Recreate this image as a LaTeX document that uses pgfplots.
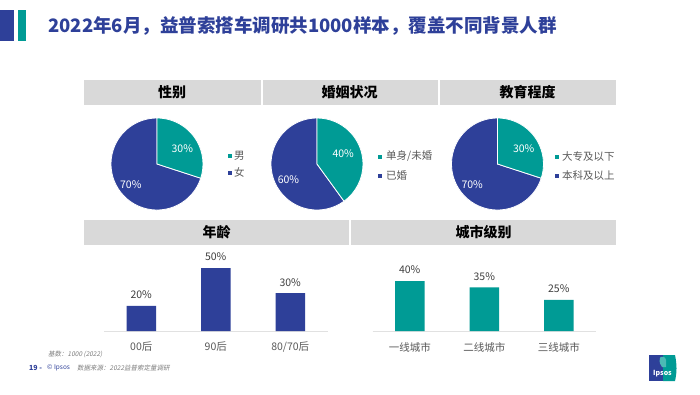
\documentclass[border=0pt]{standalone}
\usepackage{fontspec}
\setmainfont{Noto Sans CJK SC}
\newfontfamily\slcjk{Noto Sans CJK SC}[FakeSlant=0.2]
\usepackage{pgfplots}
\pgfplotsset{compat=1.18}
\definecolor{dkblue}{HTML}{2E4099}
\definecolor{tealc}{HTML}{009B95}
\definecolor{hdr}{HTML}{D9D9D9}
\definecolor{txtgray}{HTML}{595959}
\definecolor{lblgray}{HTML}{404040}
\definecolor{ftgray}{HTML}{7F7F7F}
\tikzset{pielbl/.style={font=\fontsize{10.5}{12}\selectfont, text=white},
  slice/.style={draw=white, line width=0.8pt}}
\pgfplotsset{
  pieaxis/.style={anchor=center, x=46pt, y=46pt, xmin=-1, xmax=1, ymin=-1, ymax=1, hide axis, clip=false},
  baraxis/.style={anchor=south west, scale only axis, width=223.5pt, xmin=-0.5, xmax=2.5, ymin=0, ymax=55,
    ybar, bar width=29.5pt, axis x line=bottom, axis y line=none,
    x axis line style={draw=hdr!80, line width=1pt, -},
    xtick=data, major tick length=0pt,
    /pgf/number format/assume math mode=true,
    xticklabel style={anchor=center, yshift=-16pt, font=\fontsize{10.5}{12}\selectfont, text=txtgray},
    nodes near coords={\pgfmathprintnumber{\pgfplotspointmeta}\%},
    every node near coord/.append style={anchor=center, yshift=11pt, font=\fontsize{10.5}{12}\selectfont, text=lblgray}}
}
\begin{document}
\begin{tikzpicture}
\begin{scope}[x=1pt,y=-1pt]
\path[use as bounding box, fill=white] (0,0) rectangle (700,394);
\fill[dkblue] (0,10) rectangle (14,41);
\fill[tealc] (18,10) rectangle (26,41);
\node[anchor=west, inner sep=0, text=dkblue, font=\fontsize{18.5}{20}\selectfont\bfseries] at (48,26) {2022年6月，益普索搭车调研共1000样本，覆盖不同背景人群};
% header bars
\fill[hdr] (83.5,79.5) rectangle (260.5,104.5);
\fill[hdr] (262.5,79.5) rectangle (437.5,104.5);
\fill[hdr] (439.5,79.5) rectangle (616,104.5);
\fill[hdr] (83.5,220) rectangle (349,244.5);
\fill[hdr] (351,220) rectangle (616,244.5);
\node[font=\fontsize{14}{16}\selectfont\bfseries] at (172,92) {性别};
\node[font=\fontsize{14}{16}\selectfont\bfseries] at (349.5,92) {婚姻状况};
\node[font=\fontsize{14}{16}\selectfont\bfseries] at (527.5,92) {教育程度};
\node[font=\fontsize{14}{16}\selectfont\bfseries] at (216.5,232.5) {年龄};
\node[font=\fontsize{14}{16}\selectfont\bfseries] at (483.5,232.5) {城市级别};
% legends
\fill[tealc] (227.5,154) rectangle (231.5,158);
\node[anchor=west, inner sep=0, font=\fontsize{10.5}{12}\selectfont, text=txtgray] at (234,156) {男};
\fill[dkblue] (227.5,170.5) rectangle (231.5,174.5);
\node[anchor=west, inner sep=0, font=\fontsize{10.5}{12}\selectfont, text=txtgray] at (234,172.5) {女};
\fill[tealc] (378,154.5) rectangle (382,158.5);
\node[anchor=west, inner sep=0, font=\fontsize{10.5}{12}\selectfont, text=txtgray] at (386,156.5) {单身/未婚};
\fill[dkblue] (378,173.5) rectangle (382,177.5);
\node[anchor=west, inner sep=0, font=\fontsize{10.5}{12}\selectfont, text=txtgray] at (386,175.5) {已婚};
\fill[tealc] (554.5,155) rectangle (558.5,159);
\node[anchor=west, inner sep=0, font=\fontsize{10.5}{12}\selectfont, text=txtgray] at (562,157) {大专及以下};
\fill[dkblue] (554.5,174) rectangle (558.5,178);
\node[anchor=west, inner sep=0, font=\fontsize{10.5}{12}\selectfont, text=txtgray] at (562,176) {本科及以上};
% footer
\node[anchor=west, inner sep=0, font=\slcjk\fontsize{6.5}{7}\selectfont, text=ftgray] at (48,354) {基数：1000 (2022)};
\node[anchor=west, inner sep=0, font=\bfseries\fontsize{7}{8}\selectfont, text=dkblue] at (29,368) {19 -};
\node[anchor=west, inner sep=0, font=\fontsize{6.5}{7}\selectfont, text=dkblue] at (47,368) {© Ipsos};
\node[anchor=west, inner sep=0, font=\slcjk\fontsize{6.5}{7}\selectfont, text=ftgray] at (77,368) {数据来源：2022益普索定量调研};
% logo
\fill[dkblue] (649,355) rectangle (663,381);
\fill[tealc] (663,355) -- (675,355) .. controls (677,365) and (677,372) .. (675,381) -- (663,381) -- cycle;
\fill[tealc!70!white] (660,358) .. controls (660,356) and (666,356) .. (666,360) -- (666,367) -- (662,367) .. controls (660,365) and (659,362) .. (660,358) -- cycle;
\node[inner sep=0, text=white, font=\bfseries\fontsize{7}{8}\selectfont] at (662.5,374) {Ipsos};
\end{scope}

% pie 1: 性别 (30 / 70)
\begin{axis}[pieaxis, at={(157pt,-164pt)}]
\filldraw[fill=dkblue, slice] (axis cs:0,0) -- +({90-3.6*30}:46pt) arc[start angle={90-3.6*30}, end angle=-270, radius=46pt] -- cycle;
\filldraw[fill=tealc, slice] (axis cs:0,0) -- +(90:46pt) arc[start angle=90, end angle={90-3.6*30}, radius=46pt] -- cycle;
\node[pielbl] at (axis cs:0.55,0.33) {30\%};
\node[pielbl] at (axis cs:-0.57,-0.44) {70\%};
\end{axis}

% pie 2: 婚姻状况 (40 / 60)
\begin{axis}[pieaxis, at={(317pt,-164pt)}]
\filldraw[fill=dkblue, slice] (axis cs:0,0) -- +({90-3.6*40}:46pt) arc[start angle={90-3.6*40}, end angle=-270, radius=46pt] -- cycle;
\filldraw[fill=tealc, slice] (axis cs:0,0) -- +(90:46pt) arc[start angle=90, end angle={90-3.6*40}, radius=46pt] -- cycle;
\node[pielbl] at (axis cs:0.57,0.22) {40\%};
\node[pielbl] at (axis cs:-0.62,-0.33) {60\%};
\end{axis}

% pie 3: 教育程度 (30 / 70)
\begin{axis}[pieaxis, at={(497.5pt,-164pt)}]
\filldraw[fill=dkblue, slice] (axis cs:0,0) -- +({90-3.6*30}:46pt) arc[start angle={90-3.6*30}, end angle=-270, radius=46pt] -- cycle;
\filldraw[fill=tealc, slice] (axis cs:0,0) -- +(90:46pt) arc[start angle=90, end angle={90-3.6*30}, radius=46pt] -- cycle;
\node[pielbl] at (axis cs:0.57,0.33) {30\%};
\node[pielbl] at (axis cs:-0.55,-0.44) {70\%};
\end{axis}

% bars: 年龄
\begin{axis}[baraxis, at={(104pt,-331pt)}, height=69.3pt, xticklabels={00后,90后,80/70后}]
\addplot[fill=dkblue, draw=none] coordinates {(0,20) (1,50) (2,30)};
\end{axis}

% bars: 城市级别
\begin{axis}[baraxis, at={(372.5pt,-331pt)}, height=68.75pt, xticklabels={一线城市,二线城市,三线城市}]
\addplot[fill=tealc, draw=none] coordinates {(0,40) (1,35) (2,25)};
\end{axis}
\end{tikzpicture}
\end{document}
